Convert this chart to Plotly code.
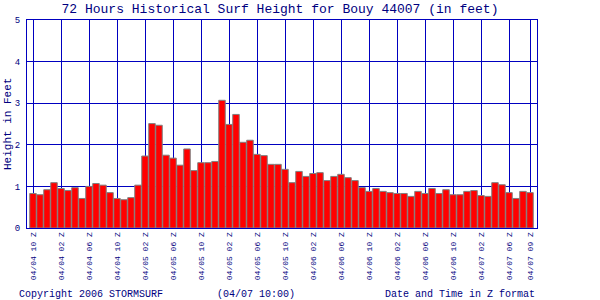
import plotly.graph_objects as go

heights = [0.83, 0.80, 0.92, 1.09, 0.95, 0.90, 0.97, 0.71, 1.00, 1.07,
           1.03, 0.85, 0.71, 0.68, 0.73, 1.03, 1.73, 2.51, 2.47, 1.75,
           1.68, 1.51, 1.90, 1.38, 1.57, 1.57, 1.60, 3.07, 2.49, 2.73,
           2.06, 2.11, 1.77, 1.74, 1.53, 1.53, 1.41, 1.09, 1.36, 1.24,
           1.31, 1.33, 1.14, 1.24, 1.29, 1.21, 1.14, 0.97, 0.88, 0.95,
           0.88, 0.85, 0.83, 0.83, 0.76, 0.88, 0.83, 0.95, 0.83, 0.92,
           0.80, 0.80, 0.88, 0.90, 0.78, 0.76, 1.09, 1.04, 0.85, 0.71,
           0.88, 0.85]
hours = list(range(len(heights)))

tick_pos = [0, 4, 8, 12, 16, 20, 24, 28, 32, 36, 40, 44, 48, 52, 56, 60, 64, 68, 71]
tick_labels = ["04/04 10 Z", "04/04 02 Z", "04/04 06 Z", "04/04 10 Z",
               "04/05 02 Z", "04/05 06 Z", "04/05 10 Z", "04/05 02 Z",
               "04/05 06 Z", "04/05 10 Z", "04/06 02 Z", "04/06 06 Z",
               "04/06 10 Z", "04/06 02 Z", "04/06 06 Z", "04/06 10 Z",
               "04/07 02 Z", "04/07 06 Z", "04/07 09 Z"]

navy = "#000080"
grid = "#0000C0"
font = "Liberation Mono"

fig = go.Figure(go.Bar(
    x=hours, y=heights, width=0.93,
    marker=dict(color="#FF0000", line=dict(color="#808080", width=1)),
))

fig.update_layout(
    width=600, height=300,
    margin=dict(l=27, r=63, t=20, b=72),
    paper_bgcolor="white", plot_bgcolor="white",
    showlegend=False,
    font=dict(family=font, color=navy),
    title=dict(text="72 Hours Historical Surf Height for Bouy 44007 (in feet)",
               x=280/600, xanchor="center", xref="container",
               y=1 - 8/300, yanchor="middle", yref="container",
               font=dict(family=font, size=13, color=navy)),
    xaxis=dict(range=[-0.857, 72], tickmode="array", tickvals=tick_pos,
               ticktext=tick_labels, tickangle=-90,
               tickfont=dict(family=font, size=8, color=navy),
               showgrid=True, gridcolor=grid, gridwidth=1,
               showline=True, linecolor=grid, linewidth=1, mirror=True,
               zeroline=False, ticks=""),
    yaxis=dict(range=[0, 5], tickvals=[0, 1, 2, 3, 4, 5],
               tickfont=dict(family=font, size=9, color=navy),
               showgrid=True, gridcolor=grid, gridwidth=1,
               showline=True, linecolor=grid, linewidth=1, mirror=True,
               zeroline=False, ticks="", ticklabelstandoff=4),
    annotations=[
        dict(text="Height in Feet", textangle=-90, xref="paper", yref="paper",
             x=-19/510, y=0.5, xanchor="center", yanchor="middle",
             showarrow=False, font=dict(family=font, size=11, color=navy)),
        dict(text="Copyright 2006 STORMSURF", xref="paper", yref="paper",
             x=-10/510, y=-(294-228)/208, xanchor="left", yanchor="middle",
             showarrow=False, font=dict(family=font, size=10, color=navy)),
        dict(text="(04/07 10:00)", xref="paper", yref="paper",
             x=(215-27)/510, y=-(294-228)/208, xanchor="left", yanchor="middle",
             showarrow=False, font=dict(family=font, size=10, color=navy)),
        dict(text="Date and Time in Z format", xref="paper", yref="paper",
             x=1.0, y=-(294-228)/208, xanchor="right", yanchor="middle",
             showarrow=False, font=dict(family=font, size=10, color=navy)),
    ],
)

fig.write_html("out.html")
